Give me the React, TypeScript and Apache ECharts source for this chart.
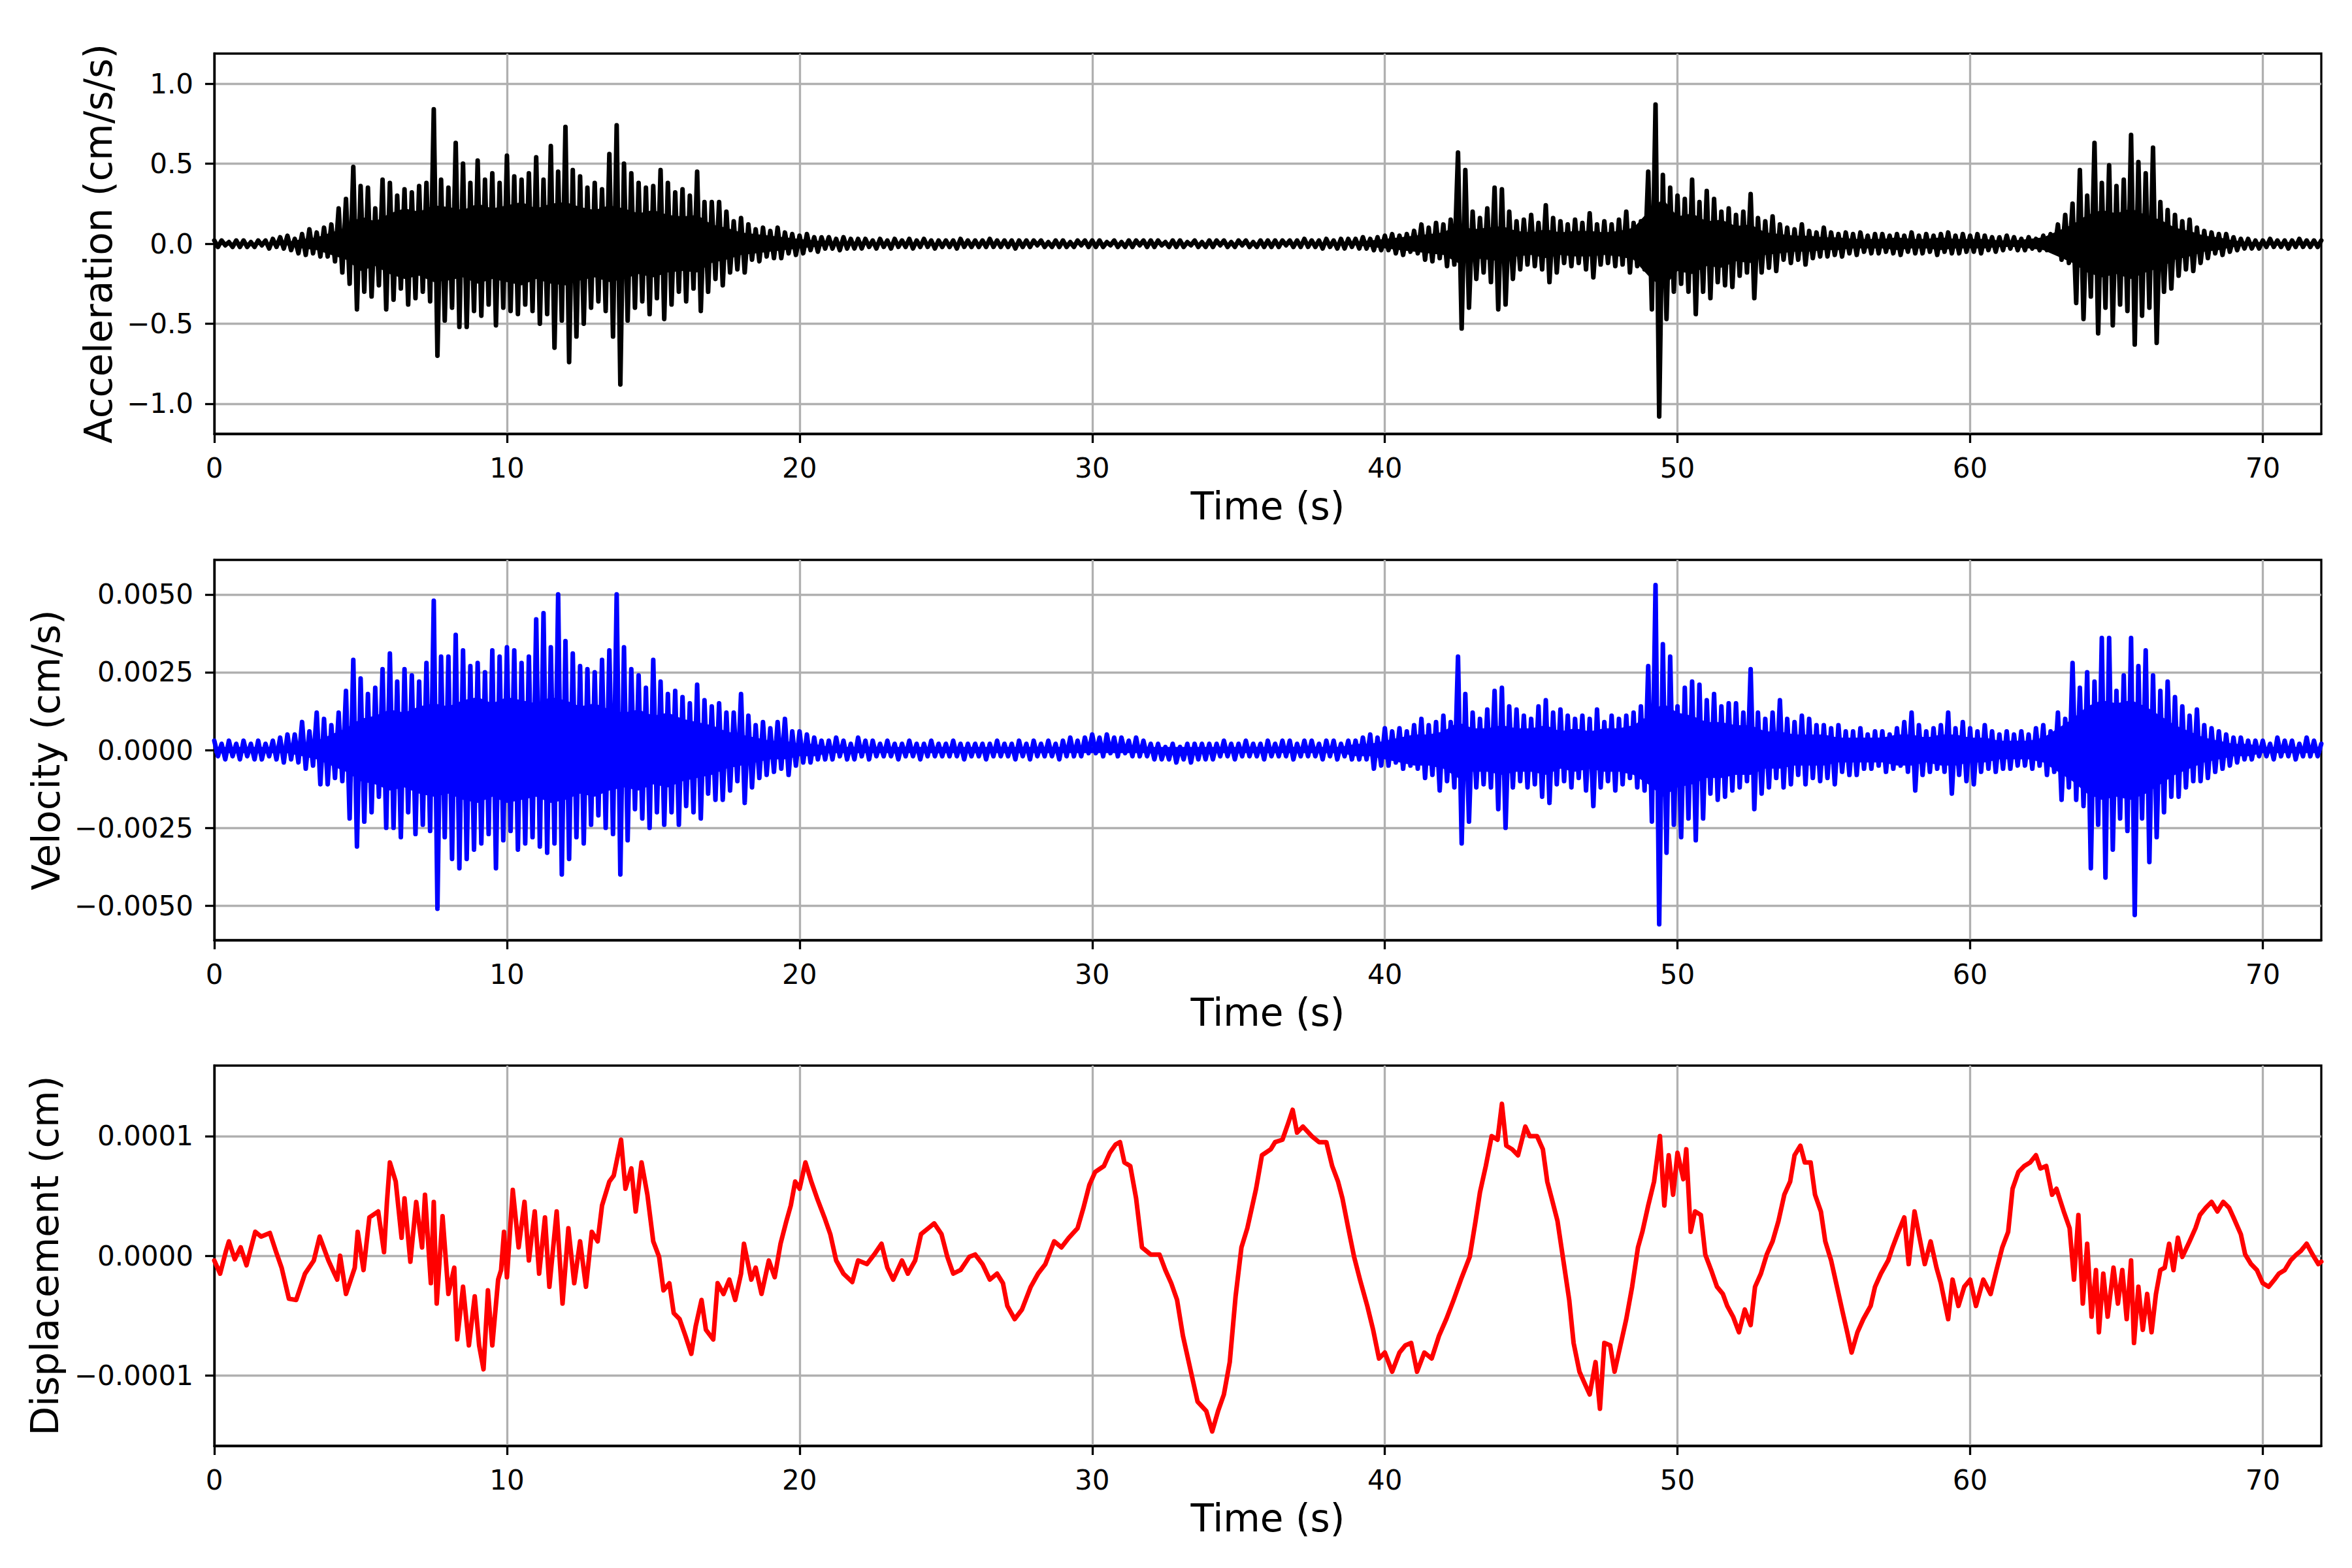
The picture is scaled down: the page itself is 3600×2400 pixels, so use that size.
import { useEffect, useRef } from 'react';
import * as echarts from 'echarts';

const TIME_MAX = 72;
const timeTicks = [0, 10, 20, 30, 40, 50, 60, 70];
const accTicks = [-1, -0.5, 0, 0.5, 1];
const velTicks = [-0.005, -0.0025, 0, 0.0025, 0.005];
const dispTicks = [-0.0001, 0, 0.0001];

// acceleration, one row per second: four quarter-second windows as [peak up, peak down], in 0.01 cm/s/s
const accPeaks: number[][] = [
    [2, -2, 2, -1, 1, -2, 2, -2], // 0
    [2, -2, 1, -2, 2, -1, 2, -3],
    [3, -2, 4, -3, 5, -4, 3, -6],
    [6, -7, 9, -6, 7, -8, 10, -8],
    [12, -11, 22, -18, 28, -25, 48, -41],
    [36, -30, 35, -33, 22, -26, 40, -41], // 5
    [38, -35, 30, -28, 34, -38, 32, -34],
    [36, -30, 38, -36, 84, -70, 40, -48],
    [35, -40, 63, -52, 50, -52, 38, -42],
    [52, -45, 40, -38, 44, -51, 38, -40],
    [55, -42, 42, -44, 40, -38, 44, -42], // 10
    [54, -50, 40, -44, 61, -65, 45, -48],
    [73, -74, 46, -58, 42, -50, 35, -40],
    [38, -36, 34, -42, 56, -58, 74, -88],
    [50, -48, 44, -40, 38, -36, 35, -44],
    [36, -34, 46, -47, 38, -38, 32, -30], // 15
    [34, -36, 30, -28, 45, -42, 26, -30],
    [26, -22, 26, -26, 20, -18, 14, -16],
    [16, -18, 12, -10, 9, -11, 10, -8],
    [8, -9, 10, -9, 7, -6, 6, -7],
    [5, -6, 6, -4, 4, -5, 4, -3], // 20
    [4, -3, 3, -4, 4, -3, 3, -3],
    [3, -3, 3, -2, 2, -3, 3, -2],
    [2, -3, 3, -2, 2, -2, 3, -3],
    [2, -2, 3, -2, 2, -3, 2, -2],
    [2, -2, 2, -3, 3, -2, 2, -2], // 25
    [2, -2, 2, -2, 3, -2, 2, -2],
    [2, -2, 2, -3, 2, -2, 2, -2],
    [2, -1, 2, -2, 1, -2, 2, -2],
    [2, -2, 1, -2, 2, -1, 2, -2],
    [2, -2, 2, -2, 1, -1, 2, -2], // 30
    [1, -2, 2, -2, 2, -1, 2, -2],
    [2, -2, 2, -1, 1, -2, 2, -2],
    [2, -2, 1, -1, 2, -2, 1, -2],
    [2, -2, 2, -1, 2, -2, 1, -2],
    [2, -1, 2, -2, 1, -2, 2, -2], // 35
    [2, -2, 2, -2, 2, -1, 2, -2],
    [2, -2, 3, -2, 2, -2, 2, -3],
    [3, -2, 2, -3, 3, -3, 3, -2],
    [3, -3, 4, -3, 3, -4, 4, -4],
    [5, -4, 6, -6, 5, -7, 6, -5], // 40
    [8, -6, 12, -10, 10, -11, 13, -9],
    [12, -14, 15, -13, 57, -53, 46, -40],
    [20, -22, 16, -18, 22, -24, 35, -41],
    [34, -38, 20, -22, 14, -16, 15, -13],
    [18, -14, 13, -16, 24, -24, 16, -18], // 45
    [14, -12, 12, -14, 15, -12, 13, -16],
    [19, -21, 12, -13, 14, -12, 12, -14],
    [15, -13, 20, -18, 13, -14, 14, -16],
    [45, -41, 87, -108, 43, -47, 35, -30],
    [30, -25, 28, -30, 40, -44, 26, -30], // 50
    [33, -34, 28, -24, 20, -26, 22, -27],
    [18, -20, 20, -18, 31, -34, 16, -18],
    [14, -15, 17, -17, 12, -10, 10, -12],
    [9, -10, 12, -13, 8, -9, 7, -8],
    [10, -8, 7, -7, 6, -8, 7, -6], // 55
    [6, -7, 7, -5, 5, -6, 6, -6],
    [6, -5, 5, -6, 6, -7, 5, -5],
    [7, -6, 5, -6, 6, -5, 5, -7],
    [6, -5, 7, -6, 5, -6, 6, -5],
    [5, -5, 6, -6, 5, -4, 4, -5], // 60
    [4, -4, 5, -3, 4, -4, 3, -4],
    [4, -3, 3, -4, 5, -4, 6, -5],
    [12, -10, 18, -12, 25, -37, 46, -47],
    [30, -33, 63, -56, 38, -40, 49, -51],
    [36, -38, 40, -42, 68, -63, 51, -45], // 65
    [44, -40, 60, -62, 26, -30, 21, -28],
    [18, -20, 14, -16, 15, -17, 10, -12],
    [8, -9, 7, -6, 6, -7, 6, -5],
    [4, -4, 3, -3, 3, -3, 2, -3],
    [2, -2, 3, -2, 2, -2, 2, -3], // 70
    [2, -2, 3, -2, 2, -2, 2, -2],
    [2, -1],
];

// half-width of the solid core of the acceleration trace, every 0.5 s, in 0.01 cm/s/s
const accCore = [
    0, 0, 0, 0, 1, 1, 3, 4, 7, 10, // 0-4.5
    17, 14, 19, 22, 20, 24, 23, 21, 25, 22, // 5-9.5
    24, 26, 22, 25, 26, 23, 21, 24, 22, 19, // 10-14.5
    21, 18, 17, 18, 12, 10, 7, 6, 5, 4, // 15-19.5
    3, 2, 1, 0, 0, 0, 0, 0, 0, 0, // 20-24.5
    0, 0, 0, 0, 0, 0, 0, 0, 0, 0, // 25-29.5
    0, 0, 0, 0, 0, 0, 0, 0, 0, 0, // 30-34.5
    0, 0, 0, 0, 0, 0, 0, 0, 1, 2, // 35-39.5
    3, 4, 5, 6, 7, 12, 9, 10, 11, 8, // 40-44.5
    7, 9, 7, 8, 8, 7, 8, 10, 20, 28, // 45-49.5
    17, 19, 14, 15, 11, 12, 7, 6, 5, 5, // 50-54.5
    4, 4, 3, 3, 3, 4, 3, 3, 4, 3, // 55-59.5
    3, 3, 2, 2, 3, 4, 8, 12, 18, 21, // 60-64.5
    19, 22, 18, 15, 10, 8, 5, 4, 2, 1, // 65-69.5
    1, 1, 1, 1, 1, // 70-72
];

// velocity, same layout as the acceleration peaks, in 1e-4 cm/s
const velPeaks: number[][] = [
    [3, -2, 2, -3, 3, -2, 2, -3], // 0
    [3, -2, 2, -3, 3, -3, 2, -2],
    [3, -3, 4, -4, 5, -3, 5, -4],
    [9, -6, 6, -5, 12, -11, 10, -11],
    [8, -9, 12, -10, 19, -22, 29, -31],
    [23, -23, 18, -20, 20, -15, 26, -25], // 5
    [31, -25, 22, -28, 26, -20, 24, -27],
    [22, -24, 28, -26, 48, -51, 30, -28],
    [30, -35, 37, -38, 32, -35, 27, -32],
    [28, -30, 25, -27, 32, -38, 30, -29],
    [33, -26, 32, -32, 28, -30, 30, -28], // 10
    [42, -31, 44, -33, 33, -30, 50, -40],
    [35, -35, 31, -28, 27, -30, 26, -24],
    [25, -21, 29, -25, 32, -27, 50, -40],
    [33, -29, 26, -19, 24, -22, 20, -25],
    [29, -20, 22, -24, 18, -20, 19, -24], // 15
    [17, -18, 15, -20, 21, -22, 16, -14],
    [14, -16, 15, -16, 12, -13, 12, -10],
    [18, -17, 11, -12, 8, -9, 9, -8],
    [7, -7, 9, -6, 10, -8, 6, -5],
    [6, -4, 5, -4, 4, -3, 3, -3], // 20
    [3, -3, 4, -2, 3, -3, 2, -3],
    [4, -2, 3, -3, 3, -2, 2, -2],
    [3, -2, 2, -3, 2, -2, 3, -2],
    [2, -3, 2, -2, 3, -2, 2, -2],
    [2, -2, 3, -2, 2, -3, 2, -2], // 25
    [2, -2, 2, -3, 2, -2, 3, -2],
    [2, -2, 2, -3, 3, -2, 2, -3],
    [3, -2, 2, -2, 3, -2, 2, -3],
    [3, -2, 4, -2, 3, -2, 4, -1],
    [5, -1, 4, -2, 5, -1, 4, -2], // 30
    [4, -1, 3, -2, 4, -2, 3, -2],
    [2, -3, 2, -3, 1, -3, 2, -4],
    [1, -3, 2, -4, 2, -3, 2, -3],
    [2, -3, 2, -2, 3, -2, 2, -3],
    [2, -2, 3, -2, 2, -2, 2, -3], // 35
    [3, -2, 2, -2, 3, -2, 3, -3],
    [2, -2, 3, -2, 3, -2, 2, -3],
    [3, -2, 3, -3, 2, -2, 3, -3],
    [3, -3, 4, -3, 5, -6, 4, -5],
    [7, -5, 6, -4, 7, -6, 6, -5], // 40
    [8, -6, 10, -9, 8, -8, 9, -13],
    [11, -10, 9, -12, 30, -30, 18, -23],
    [12, -12, 10, -11, 13, -12, 19, -19],
    [20, -25, 14, -12, 13, -10, 11, -12],
    [10, -11, 14, -15, 16, -17, 12, -11], // 45
    [13, -10, 11, -12, 10, -9, 11, -13],
    [10, -18, 13, -12, 9, -10, 11, -13],
    [10, -11, 11, -9, 12, -12, 14, -13],
    [27, -23, 53, -56, 34, -33, 30, -24],
    [14, -28, 20, -22, 22, -29, 21, -22], // 50
    [16, -14, 18, -16, 14, -15, 15, -13],
    [15, -12, 12, -10, 26, -19, 12, -14],
    [10, -12, 12, -9, 16, -12, 10, -11],
    [9, -8, 11, -11, 10, -9, 8, -10],
    [8, -9, 7, -11, 8, -7, 6, -8], // 55
    [6, -8, 7, -6, 5, -6, 6, -5],
    [6, -7, 5, -6, 7, -5, 9, -7],
    [12, -13, 8, -8, 6, -7, 7, -6],
    [8, -7, 12, -14, 7, -8, 9, -10],
    [7, -11, 6, -7, 8, -6, 6, -7], // 60
    [5, -6, 6, -6, 5, -5, 6, -5],
    [5, -6, 7, -5, 8, -8, 6, -7],
    [12, -16, 10, -12, 28, -16, 20, -18],
    [25, -38, 22, -24, 36, -41, 36, -32],
    [19, -22, 24, -26, 36, -53, 27, -22], // 65
    [32, -36, 24, -28, 19, -20, 22, -15],
    [17, -15, 14, -12, 11, -10, 13, -10],
    [8, -9, 7, -7, 6, -6, 5, -5],
    [4, -4, 4, -3, 3, -3, 3, -2],
    [3, -2, 2, -3, 4, -2, 3, -2], // 70
    [3, -3, 2, -2, 4, -2, 3, -2],
    [2, -2],
];

// half-width of the solid core of the velocity trace, every 0.5 s, in 1e-4 cm/s
const velCore = [
    1, 1, 1, 1, 1, 1, 2, 3, 5, 7, // 0-4.5
    10, 11, 13, 12, 14, 15, 14, 16, 17, 15, // 5-9.5
    17, 16, 15, 17, 16, 14, 15, 13, 12, 13, // 10-14.5
    11, 12, 10, 9, 8, 6, 5, 4, 3, 3, // 15-19.5
    2, 2, 1, 1, 1, 1, 1, 1, 1, 1, // 20-24.5
    1, 1, 1, 1, 1, 1, 1, 1, 1, 1, // 25-29.5
    1, 1, 1, 1, 1, 1, 1, 1, 1, 1, // 30-34.5
    1, 1, 1, 1, 1, 1, 1, 1, 2, 2, // 35-39.5
    3, 4, 5, 5, 6, 9, 7, 7, 8, 7, // 40-44.5
    7, 8, 6, 7, 6, 7, 7, 8, 11, 15, // 45-49.5
    12, 11, 9, 9, 8, 8, 6, 6, 5, 5, // 50-54.5
    5, 4, 4, 4, 4, 5, 5, 4, 5, 5, // 55-59.5
    4, 4, 3, 3, 3, 4, 7, 10, 14, 16, // 60-64.5
    15, 16, 14, 11, 8, 6, 4, 3, 2, 2, // 65-69.5
    1, 1, 1, 1, 1, // 70-72
];

// displacement: [time (s), value in 1e-5 cm]
const dispPoints: number[][] = [
    [0, -0.4], [0.2, -1.5], [0.4, 0.4], [0.5, 1.2], [0.7, -0.3], [0.9, 0.7], [1.1, -0.8], [1.4, 2.0],
    [1.6, 1.6], [1.9, 1.9], [2.1, 0.4], [2.3, -1.0], [2.55, -3.6], [2.8, -3.7], [3.1, -1.5], [3.4, -0.4],
    [3.6, 1.6], [3.9, -0.4], [4.2, -2.0], [4.3, 0], [4.5, -3.2], [4.8, -1.0], [4.9, 2.0], [5.1, -1.2],
    [5.3, 3.2], [5.6, 3.7], [5.8, 0.3], [5.9, 4.5], [6.0, 7.8], [6.2, 6.2], [6.4, 1.5], [6.5, 4.8],
    [6.7, -0.5], [6.9, 4.5], [7.1, 0.7], [7.2, 5.1], [7.4, -2.3], [7.5, 4.5], [7.6, -4.0], [7.8, 3.3],
    [8.0, -3.2], [8.2, -1.0], [8.3, -7.0], [8.5, -2.6], [8.7, -7.5], [8.9, -3.4], [9.05, -7.5], [9.2, -9.5],
    [9.35, -2.9], [9.5, -7.5], [9.7, -2.0], [9.8, -1.2], [9.9, 2.0], [10.0, -1.8], [10.2, 5.5], [10.4, 0.7],
    [10.6, 4.5], [10.75, -0.4], [10.95, 3.7], [11.1, -1.5], [11.3, 3.2], [11.45, -2.6], [11.7, 3.7], [11.9, -4.0],
    [12.1, 2.3], [12.3, -2.3], [12.5, 1.2], [12.7, -2.6], [12.9, 2.0], [13.1, 1.2], [13.25, 4.2], [13.5, 6.2],
    [13.65, 6.7], [13.9, 9.7], [14.05, 5.6], [14.25, 7.3], [14.4, 3.7], [14.6, 7.8], [14.8, 5.1], [15.0, 1.2],
    [15.2, -0.1], [15.35, -2.9], [15.55, -2.3], [15.7, -4.8], [15.9, -5.3], [16.1, -6.7], [16.3, -8.2], [16.45, -5.9],
    [16.65, -3.7], [16.8, -6.2], [17.05, -7.0], [17.2, -2.3], [17.4, -3.2], [17.6, -2.0], [17.8, -3.7], [18.0, -1.5],
    [18.1, 1.0], [18.35, -2.0], [18.5, -1.0], [18.7, -3.2], [18.95, -0.4], [19.15, -1.8], [19.35, 1.0], [19.55, 2.9],
    [19.7, 4.2], [19.85, 6.2], [20.0, 5.6], [20.2, 7.8], [20.4, 6.2], [20.6, 4.8], [20.85, 3.2], [21.05, 1.8],
    [21.25, -0.4], [21.5, -1.5], [21.8, -2.2], [22.0, -0.4], [22.3, -0.7], [22.55, 0.1], [22.8, 1.0], [23.0, -1.0],
    [23.2, -2.0], [23.5, -0.4], [23.7, -1.5], [23.95, -0.4], [24.15, 1.8], [24.4, 2.3], [24.6, 2.7], [24.85, 1.8],
    [25.05, -0.1], [25.25, -1.5], [25.5, -1.2], [25.8, -0.1], [26.0, 0.1], [26.25, -0.7], [26.5, -2.0], [26.75, -1.5],
    [26.95, -2.3], [27.1, -4.2], [27.35, -5.3], [27.6, -4.5], [27.9, -2.6], [28.15, -1.5], [28.4, -0.7], [28.7, 1.2],
    [28.95, 0.7], [29.2, 1.5], [29.5, 2.3], [29.7, 4.0], [29.9, 5.9], [30.1, 7.0], [30.4, 7.5], [30.6, 8.6],
    [30.8, 9.3], [30.95, 9.5], [31.1, 7.8], [31.3, 7.5], [31.5, 4.8], [31.7, 0.7], [32.0, 0.1], [32.3, 0.1],
    [32.5, -1.2], [32.7, -2.3], [32.9, -3.7], [33.1, -6.7], [33.4, -10.0], [33.6, -12.2], [33.9, -13.0], [34.1, -14.7],
    [34.3, -13.0], [34.5, -11.6], [34.7, -8.9], [34.9, -3.4], [35.1, 0.7], [35.3, 2.3], [35.6, 5.6], [35.8, 8.4],
    [36.1, 8.9], [36.25, 9.5], [36.5, 9.7], [36.7, 11.1], [36.85, 12.2], [37.0, 10.3], [37.2, 10.8], [37.5, 10.0],
    [37.75, 9.5], [38.0, 9.5], [38.2, 7.5], [38.4, 6.2], [38.55, 4.8], [38.75, 2.3], [38.95, -0.1], [39.15, -2.0],
    [39.4, -4.2], [39.6, -6.2], [39.8, -8.6], [40.0, -8.1], [40.25, -9.7], [40.5, -8.1], [40.7, -7.5], [40.9, -7.3],
    [41.1, -9.7], [41.35, -8.1], [41.6, -8.6], [41.85, -6.7], [42.1, -5.3], [42.35, -3.7], [42.6, -2.0], [42.9, -0.1],
    [43.1, 2.9], [43.25, 5.3], [43.45, 7.5], [43.65, 10.0], [43.85, 9.7], [44.0, 12.7], [44.15, 9.2], [44.35, 8.9],
    [44.55, 8.4], [44.8, 10.8], [44.95, 10.0], [45.2, 10.0], [45.4, 8.9], [45.55, 6.2], [45.7, 4.8], [45.9, 2.9],
    [46.1, -0.4], [46.3, -3.7], [46.45, -7.3], [46.65, -9.7], [46.85, -10.8], [47.0, -11.6], [47.2, -8.9], [47.35, -12.8],
    [47.5, -7.3], [47.7, -7.5], [47.85, -9.7], [48.05, -7.5], [48.25, -5.3], [48.45, -2.6], [48.65, 0.7], [48.8, 2.0],
    [49.0, 4.2], [49.2, 6.2], [49.4, 10.0], [49.55, 4.2], [49.7, 8.4], [49.85, 5.1], [50.0, 8.6], [50.2, 6.4],
    [50.3, 8.9], [50.45, 2.0], [50.6, 3.7], [50.8, 3.4], [50.95, 0.1], [51.15, -1.2], [51.35, -2.6], [51.55, -3.2],
    [51.7, -4.2], [51.9, -5.1], [52.1, -6.4], [52.3, -4.5], [52.5, -5.8], [52.65, -2.6], [52.85, -1.5], [53.05, 0.1],
    [53.25, 1.2], [53.45, 2.9], [53.65, 5.1], [53.85, 6.2], [54.0, 8.4], [54.2, 9.2], [54.35, 7.8], [54.55, 7.8],
    [54.7, 5.1], [54.9, 3.7], [55.05, 1.2], [55.25, -0.4], [55.45, -2.6], [55.65, -4.8], [55.8, -6.4], [55.95, -8.1],
    [56.15, -6.4], [56.35, -5.3], [56.6, -4.2], [56.75, -2.6], [56.95, -1.5], [57.2, -0.4], [57.35, 0.7], [57.55, 2.0],
    [57.75, 3.2], [57.9, -0.7], [58.1, 3.7], [58.25, 1.8], [58.45, -0.7], [58.65, 1.2], [58.85, -1.0], [59.0, -2.3],
    [59.25, -5.3], [59.4, -2.0], [59.6, -4.2], [59.8, -2.6], [60.0, -2.0], [60.2, -4.2], [60.45, -2.0], [60.7, -3.2],
    [60.9, -1.2], [61.1, 0.7], [61.3, 2.0], [61.45, 5.6], [61.65, 7.0], [61.85, 7.5], [62.05, 7.8], [62.25, 8.4],
    [62.4, 7.3], [62.6, 7.5], [62.8, 5.1], [62.95, 5.6], [63.2, 3.7], [63.4, 2.3], [63.55, -2.0], [63.7, 3.4],
    [63.85, -4.0], [64.0, 1.0], [64.15, -5.1], [64.3, -1.2], [64.4, -6.4], [64.55, -1.5], [64.7, -5.1], [64.9, -1.0],
    [65.05, -4.0], [65.2, -1.2], [65.35, -5.3], [65.5, -0.4], [65.6, -7.3], [65.75, -2.6], [65.9, -6.2], [66.05, -3.2],
    [66.2, -6.4], [66.35, -3.2], [66.5, -1.2], [66.65, -1.0], [66.8, 1.0], [66.95, -1.2], [67.1, 1.5], [67.25, -0.1],
    [67.5, 1.2], [67.7, 2.3], [67.85, 3.4], [68.05, 4.0], [68.25, 4.5], [68.45, 3.7], [68.65, 4.5], [68.85, 4.0],
    [69.0, 3.2], [69.25, 1.8], [69.4, 0.1], [69.6, -0.7], [69.8, -1.2], [70.0, -2.3], [70.2, -2.6], [70.4, -2.0],
    [70.55, -1.5], [70.75, -1.2], [70.95, -0.4], [71.15, 0.1], [71.3, 0.4], [71.5, 1.0], [71.7, 0.1], [71.9, -0.7],
    [72.0, -0.5],
];

const FONT = 'DejaVu Sans';
const GRID_GRAY = '#b0b0b0';
const LINE_W = 7;
const SPINE_W = 3.3;
const CORE_STEP = 0.5;

// each quarter-second window gives its up peak, then its down peak an eighth of a second later
function peaksToPoints(rows: number[][], unit: number) {
    const pts: number[][] = [];
    rows.forEach((row, s) => {
        for (let k = 0; k < row.length; k += 2) {
            const t = s + k / 8;
            pts.push([t, row[k] * unit]);
            if (t + 0.125 <= TIME_MAX) pts.push([t + 0.125, row[k + 1] * unit]);
        }
    });
    return pts;
}

const fmt = (digits: number) => (v: number) =>
    (v < 0 ? '\u2212' : '') + Math.abs(v).toFixed(digits);

function xAxisFor(gridIndex: number) {
    return {
        type: 'value',
        gridIndex,
        min: 0,
        max: TIME_MAX,
        minInterval: 10,
        maxInterval: 10,
        name: 'Time (s)',
        nameLocation: 'middle',
        nameGap: 82,
        nameTextStyle: { fontFamily: FONT, fontSize: 58, color: '#000' },
        axisLine: { show: true, onZero: false, lineStyle: { color: '#000', width: SPINE_W } },
        axisTick: { show: true, length: 14, customValues: timeTicks, lineStyle: { color: '#000', width: SPINE_W } },
        axisLabel: {
            show: true,
            margin: 31,
            fontFamily: FONT,
            fontSize: 42,
            color: '#000',
            customValues: timeTicks,
            formatter: (v: number) => String(v),
        },
        splitLine: { show: true, lineStyle: { color: GRID_GRAY, width: SPINE_W } },
    };
}

function yAxisFor(gridIndex: number, limit: number, step: number, ticks: number[], digits: number, name: string, nameGap: number) {
    return {
        type: 'value',
        gridIndex,
        min: -limit,
        max: limit,
        minInterval: step,
        maxInterval: step,
        name,
        nameLocation: 'middle',
        nameGap,
        nameTextStyle: { fontFamily: FONT, fontSize: 58, color: '#000' },
        axisLine: { show: true, onZero: false, lineStyle: { color: '#000', width: SPINE_W } },
        axisTick: { show: true, length: 14, customValues: ticks, lineStyle: { color: '#000', width: SPINE_W } },
        axisLabel: {
            show: true,
            margin: 32,
            fontFamily: FONT,
            fontSize: 42,
            color: '#000',
            customValues: ticks,
            formatter: fmt(digits),
        },
        splitLine: { show: true, lineStyle: { color: GRID_GRAY, width: SPINE_W } },
    };
}

function lineSeries(index: number, data: number[][], color: string) {
    return {
        type: 'line',
        xAxisIndex: index,
        yAxisIndex: index,
        data,
        showSymbol: false,
        symbol: 'none',
        clip: true,
        z: 3,
        lineStyle: { color, width: LINE_W, join: 'round', cap: 'round' },
        emphasis: { disabled: true },
    };
}

// one side of the solid core band, filled from zero
function coreSeries(index: number, core: number[], unit: number, sign: number, color: string) {
    return {
        type: 'line',
        xAxisIndex: index,
        yAxisIndex: index,
        data: core.map((w, i) => [i * CORE_STEP, sign * w * unit]),
        showSymbol: false,
        symbol: 'none',
        clip: true,
        z: 2,
        lineStyle: { width: 0, opacity: 0 },
        areaStyle: { color, opacity: 1, origin: 0 },
        emphasis: { disabled: true },
    };
}

export default function App() {
    const chartRef = useRef<HTMLDivElement>(null);

    useEffect(() => {
        if (!chartRef.current) return;
        document.body.style.margin = '0';

        const chart = echarts.init(chartRef.current, null, { renderer: 'svg' });

        const accData = peaksToPoints(accPeaks, 0.01);
        const velData = peaksToPoints(velPeaks, 1e-4);
        const dispData = dispPoints.map(([t, v]) => [t, v * 1e-5]);

        const gridBase = {
            left: 328,
            width: 3225,
            height: 582,
            show: true,
            borderColor: '#000',
            borderWidth: SPINE_W,
            backgroundColor: 'transparent',
        };

        const option = {
            animation: false,
            backgroundColor: '#fff',
            grid: [
                { ...gridBase, top: 82 },
                { ...gridBase, top: 857 },
                { ...gridBase, top: 1631 },
            ],
            xAxis: [xAxisFor(0), xAxisFor(1), xAxisFor(2)],
            yAxis: [
                yAxisFor(0, 1.188, 0.5, accTicks, 1, 'Acceleration (cm/s/s)', 148),
                yAxisFor(1, 0.00611, 0.0025, velTicks, 4, 'Velocity (cm/s)', 228),
                yAxisFor(2, 0.000159, 0.0001, dispTicks, 4, 'Displacement (cm)', 230),
            ],
            series: [
                coreSeries(0, accCore, 0.01, 1, '#000000'),
                coreSeries(0, accCore, 0.01, -1, '#000000'),
                lineSeries(0, accData, '#000000'),
                coreSeries(1, velCore, 1e-4, 1, '#0000ff'),
                coreSeries(1, velCore, 1e-4, -1, '#0000ff'),
                lineSeries(1, velData, '#0000ff'),
                lineSeries(2, dispData, '#ff0000'),
            ],
        };

        chart.setOption(option as any);

        return () => {
            chart.dispose();
        };
    }, []);

    return <div ref={chartRef} style={{ width: 3600, height: 2400 }} />;
}
